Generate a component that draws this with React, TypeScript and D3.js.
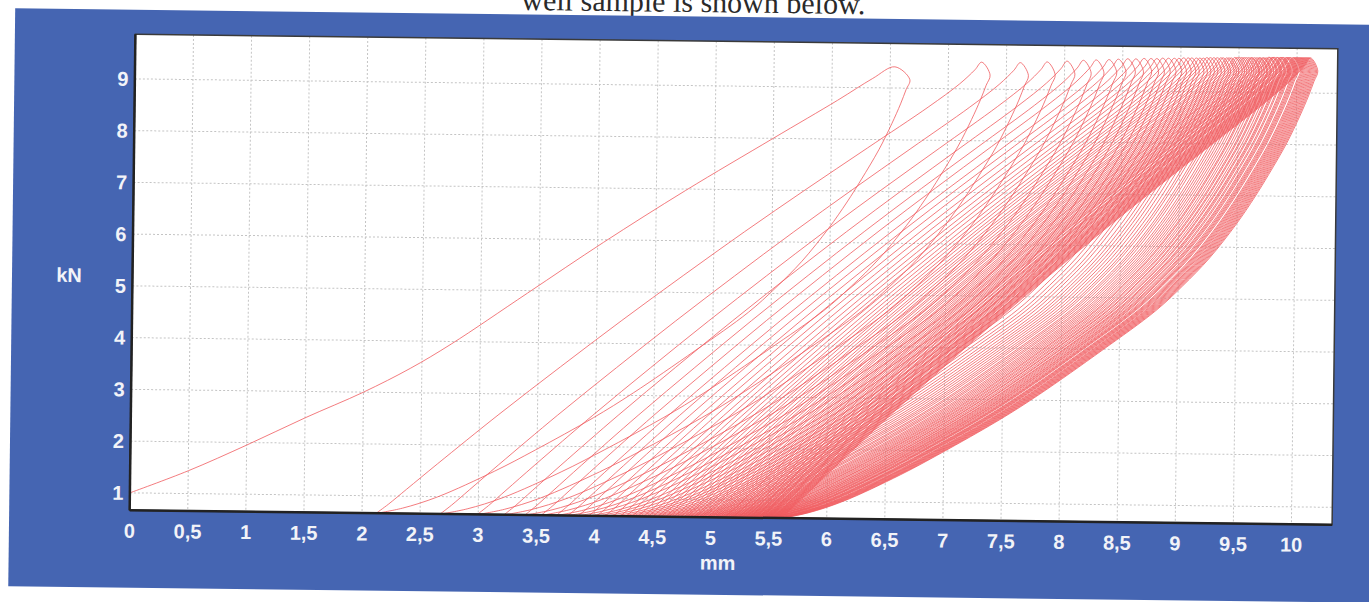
import React from "react";
import * as d3 from "d3";

// Axis ticks
const xTicks = [0, 0.5, 1, 1.5, 2, 2.5, 3, 3.5, 4, 4.5, 5, 5.5, 6, 6.5, 7, 7.5, 8, 8.5, 9, 9.5, 10];
const yTicks = [1, 2, 3, 4, 5, 6, 7, 8, 9];

// Initial loading curve (mm, kN)
const firstLoadMm = [0, 0.5, 1.0, 1.5, 2.0, 2.4, 2.75, 3.4, 4.05, 4.75, 5.5, 6.05, 6.35, 6.54];
const firstLoadKN = [1.0, 1.44, 1.95, 2.49, 3.0, 3.47, 3.95, 4.95, 5.95, 6.97, 8.0, 8.75, 9.18, 9.41];

// Displacement at the peak load of each cycle (mm)
const peakMm = [
  6.67, 7.36, 7.69, 7.92, 8.09, 8.23, 8.34, 8.45, 8.53, 8.61, 8.68, 8.75, 8.81, 8.86, 8.91, 8.96,
  9.01, 9.05, 9.09, 9.13, 9.16, 9.2, 9.23, 9.26, 9.29, 9.32, 9.35, 9.38, 9.41, 9.43, 9.46, 9.48,
  9.5, 9.53, 9.55, 9.57, 9.59, 9.61, 9.63, 9.65, 9.67, 9.68, 9.7, 9.72, 9.74, 9.75, 9.77, 9.78,
  9.8, 9.82, 9.83, 9.85, 9.86, 9.87, 9.89, 9.9, 9.92, 9.93, 9.94, 9.95, 9.97, 9.98, 9.99, 10.0,
  10.01, 10.03, 10.04, 10.05, 10.06, 10.07, 10.08, 10.09, 10.1, 10.11, 10.12, 10.13, 10.14, 10.15,
  10.16, 10.17, 10.18,
];

// Peak load reached in each cycle (kN)
const peakKN = [
  9.41, 9.52, 9.52, 9.54, 9.56, 9.58, 9.59, 9.6, 9.61, 9.62, 9.62, 9.63, 9.63, 9.63, 9.64, 9.64,
  9.64, 9.64, 9.65, 9.65, 9.65, 9.65, 9.65, 9.65, 9.66, 9.66, 9.66, 9.66, 9.66, 9.66, 9.66, 9.66,
  9.66, 9.67, 9.67, 9.67, 9.67, 9.67, 9.67, 9.67, 9.67, 9.67, 9.67, 9.67, 9.67, 9.67, 9.67, 9.67,
  9.67, 9.68, 9.68, 9.68, 9.68, 9.68, 9.68, 9.68, 9.68, 9.68, 9.68, 9.68, 9.68, 9.68, 9.68, 9.68,
  9.68, 9.68, 9.68, 9.68, 9.68, 9.68, 9.68, 9.68, 9.68, 9.68, 9.68, 9.68, 9.68, 9.68, 9.68, 9.68,
  9.68,
];

// Displacement at the minimum load after each unloading (mm)
const valleyMm = [
  2.12, 2.67, 2.99, 3.22, 3.4, 3.54, 3.67, 3.77, 3.86, 3.95, 4.02, 4.09, 4.16, 4.22, 4.27, 4.32,
  4.37, 4.42, 4.46, 4.5, 4.54, 4.57, 4.61, 4.64, 4.68, 4.71, 4.74, 4.77, 4.79, 4.82, 4.85, 4.87,
  4.9, 4.92, 4.94, 4.97, 4.99, 5.01, 5.03, 5.05, 5.07, 5.09, 5.11, 5.12, 5.14, 5.16, 5.18, 5.19,
  5.21, 5.23, 5.24, 5.26, 5.27, 5.29, 5.3, 5.32, 5.33, 5.34, 5.36, 5.37, 5.38, 5.4, 5.41, 5.42,
  5.43, 5.45, 5.46, 5.47, 5.48, 5.49, 5.5, 5.52, 5.53, 5.54, 5.55, 5.56, 5.57, 5.58, 5.59, 5.6,
  5.61,
];
const minKN = 0.66;

// Branch shapes for a cycle peaking at 9.6 kN:
// fraction of the cycle's displacement range vs load (kN)
const shapePeakKN = 9.6;
const loadShapeT = [0, 0.02, 0.05, 0.1, 0.2, 0.3, 0.4, 0.5, 0.6, 0.7, 0.8, 0.9, 0.95, 0.975, 0.986];
const loadShapeKN = [0.66, 0.84, 1.14, 1.64, 2.62, 3.56, 4.48, 5.37, 6.24, 7.08, 7.9, 8.72, 9.17, 9.45, 9.6];
const unloadShapeT = [1.0, 0.993, 0.983, 0.967, 0.943, 0.91, 0.884, 0.85, 0.8, 0.75, 0.7, 0.6, 0.484, 0.409, 0.3, 0.223, 0.116, 0.05, 0];
const unloadShapeKN = [9.35, 9.15, 8.87, 8.48, 7.96, 7.36, 6.92, 6.4, 5.74, 5.2, 4.72, 3.95, 3.1, 2.6, 1.95, 1.52, 1.0, 0.77, 0.66];

const W = 1369;
const H = 602;
const plot = { left: 132.5, top: 41.5, right: 1335, bottom: 517.5 };
const tilt = 0.69;
const cx = (plot.left + plot.right) / 2;
const cy = (plot.top + plot.bottom) / 2;

const x = d3.scaleLinear().domain([0, 10.35]).range([plot.left, plot.right]);
const y = d3.scaleLinear().domain([0.664, 9.862]).range([plot.bottom, plot.top]);

// Map a branch shape onto one cycle's displacement range and peak load
const loadRange = d3.scaleLinear().domain([minKN, shapePeakKN]);

function buildTrace(): [number, number][] {
  const pts: [number, number][] = firstLoadMm.map((m, i) => [m, firstLoadKN[i]]);
  for (let k = 0; k < peakMm.length; k++) {
    const p = peakMm[k];
    const v = valleyMm[k];
    const unloadKN = loadRange.copy().range([minKN, peakKN[k]]);
    unloadShapeT.forEach((t, i) => pts.push([v + t * (p - v), unloadKN(unloadShapeKN[i])]));
    if (k + 1 < peakMm.length) {
      const p2 = peakMm[k + 1];
      const reloadKN = loadRange.copy().range([minKN, peakKN[k + 1]]);
      loadShapeT.forEach((t, i) => pts.push([v + t * (p2 - v), reloadKN(loadShapeKN[i])]));
    }
  }
  return pts;
}

const trace = buildTrace();
const lineGen = d3
  .line<[number, number]>()
  .x((d) => x(d[0]))
  .y((d) => y(d[1]))
  .curve(d3.curveCatmullRom.alpha(0.5));

const fmt = (v: number) => String(v).replace(".", ",");

export default function App() {
  const labelFont = "'Liberation Sans', Arial, sans-serif";
  return (
    <svg
      width={W}
      height={H}
      style={{ position: "absolute", left: 0, top: 0, background: "#ffffff" }}
    >
      <defs>
        <clipPath id="plotClip">
          <rect x={plot.left} y={plot.top} width={plot.right - plot.left} height={plot.bottom - plot.top} />
        </clipPath>
      </defs>
      <rect x={0} y={0} width={W} height={H} fill="#ffffff" />
      <g transform={`rotate(${tilt}, ${cx}, ${cy})`}>
        <text
          x={690}
          y={12.5}
          textAnchor="middle"
          fontFamily="'Liberation Serif', 'Times New Roman', serif"
          fontSize={30}
          fill="#2a2a2a"
        >
          well sample is shown below.
        </text>
        <rect x={12} y={17} width={1420} height={578} fill="#4565b2" />
        <rect
          x={plot.left}
          y={plot.top}
          width={plot.right - plot.left}
          height={plot.bottom - plot.top}
          fill="#ffffff"
        />
        {/* grid */}
        <g stroke="#c4c4c4" strokeWidth={1} strokeDasharray="2,2">
          {xTicks.slice(1).map((t) => (
            <line key={`gx${t}`} x1={x(t)} x2={x(t)} y1={plot.top} y2={plot.bottom} />
          ))}
          {yTicks.map((t) => (
            <line key={`gy${t}`} x1={plot.left} x2={plot.right} y1={y(t)} y2={y(t)} />
          ))}
        </g>
        {/* load-displacement trace */}
        <path
          d={lineGen(trace) || ""}
          fill="none"
          stroke="#f05c60"
          strokeWidth={0.8}
          clipPath="url(#plotClip)"
        />
        {/* frame */}
        <rect
          x={plot.left}
          y={plot.top}
          width={plot.right - plot.left}
          height={plot.bottom - plot.top}
          fill="none"
          stroke="#3a3a3a"
          strokeWidth={1.5}
        />
        <line x1={plot.left} x2={plot.left} y1={plot.top} y2={plot.bottom} stroke="#222" strokeWidth={2.5} />
        <line x1={plot.left} x2={plot.right} y1={plot.bottom} y2={plot.bottom} stroke="#222" strokeWidth={2.5} />
        {/* tick labels */}
        <g fontFamily={labelFont} fontSize={20} fontWeight="bold" fill="#f2f3f8">
          {yTicks.map((t) => (
            <text key={`ly${t}`} x={126} y={y(t) + 7} textAnchor="end">
              {t}
            </text>
          ))}
          {xTicks.map((t) => (
            <text key={`lx${t}`} x={x(t)} y={545} textAnchor="middle">
              {fmt(t)}
            </text>
          ))}
          <text x={69} y={290} textAnchor="middle">
            kN
          </text>
          <text x={721} y={570} textAnchor="middle">
            mm
          </text>
        </g>
      </g>
    </svg>
  );
}
